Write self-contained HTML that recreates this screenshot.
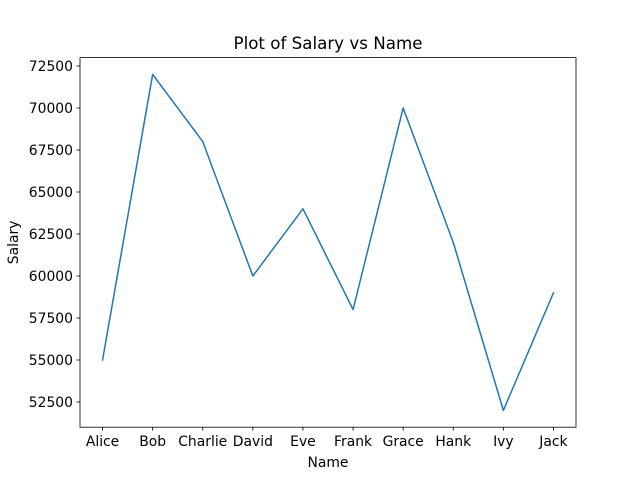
<!DOCTYPE html>
<html>
<head>
<meta charset="utf-8">
<style>
  html,body{margin:0;padding:0;background:#fff;}
  svg{display:block;}
  text{font-family:"DejaVu Sans","Liberation Sans",sans-serif;fill:#000;}
</style>
</head>
<body>
<svg id="chart" width="640" height="480" viewBox="0 0 640 480">
  <rect x="0" y="0" width="640" height="480" fill="#fff"/>
  <g id="plot"></g>
</svg>
<script>
const categories = ["Alice","Bob","Charlie","David","Eve","Frank","Grace","Hank","Ivy","Jack"];
const salaries = [55000,72000,68000,60000,64000,58000,70000,62000,52000,59000];
const yTicks = [52500,55000,57500,60000,62500,65000,67500,70000,72500];

const L = 80, R = 576, T = 57.6, B = 427.2;
const xMin = -0.45, xMax = categories.length - 1 + 0.45;
const yMin = 51000, yMax = 73000;
const xs = i => L + (i - xMin) / (xMax - xMin) * (R - L);
const ys = v => B - (v - yMin) / (yMax - yMin) * (B - T);

const NS = "http://www.w3.org/2000/svg";
const g = document.getElementById("plot");
function mk(tag, attrs, text) {
  const el = document.createElementNS(NS, tag);
  for (const k in attrs) el.setAttribute(k, attrs[k]);
  if (text !== undefined) el.textContent = text;
  g.appendChild(el);
  return el;
}

// line
const pts = salaries.map((v, i) => xs(i).toFixed(2) + "," + ys(v).toFixed(2)).join(" ");
const line = mk("polyline", {points: pts, fill: "none", stroke: "#1f77b4", "stroke-width": 1.5, "stroke-linejoin": "round", "stroke-linecap": "square"});



// axes frame
const frame = mk("rect", {x: L, y: T, width: R - L, height: B - T, fill: "none", stroke: "#000", "stroke-width": 0.8});



// x ticks
categories.forEach((c, i) => {
  const x = xs(i);
  const t = mk("line", {x1: x, x2: x, y1: B, y2: B + 3.5, stroke: "#000", "stroke-width": 0.8});
  
  
  const lb = mk("text", {x: x, y: B + 19, "text-anchor": "middle", "font-size": "13.9px"}, c);
  
  
});

// y ticks
yTicks.forEach(v => {
  const y = ys(v);
  const t = mk("line", {x1: L - 3.5, x2: L, y1: y, y2: y, stroke: "#000", "stroke-width": 0.8});
  
  
  const lb = mk("text", {x: L - 7, y: y + 5, "text-anchor": "end", "font-size": "13.9px"}, String(v));
  
  
});

const title = mk("text", {x: (L + R) / 2, y: 49, "text-anchor": "middle", "font-size": "16.7px"}, "Plot of Salary vs Name");



const xt = mk("text", {x: (L + R) / 2, y: 467, "text-anchor": "middle", "font-size": "13.9px"}, "Name");



const yt = mk("text", {x: 18, y: (T + B) / 2, "text-anchor": "middle", "font-size": "13.9px", transform: "rotate(-90 18 " + ((T + B) / 2) + ")"}, "Salary");


</script>
</body>
</html>
